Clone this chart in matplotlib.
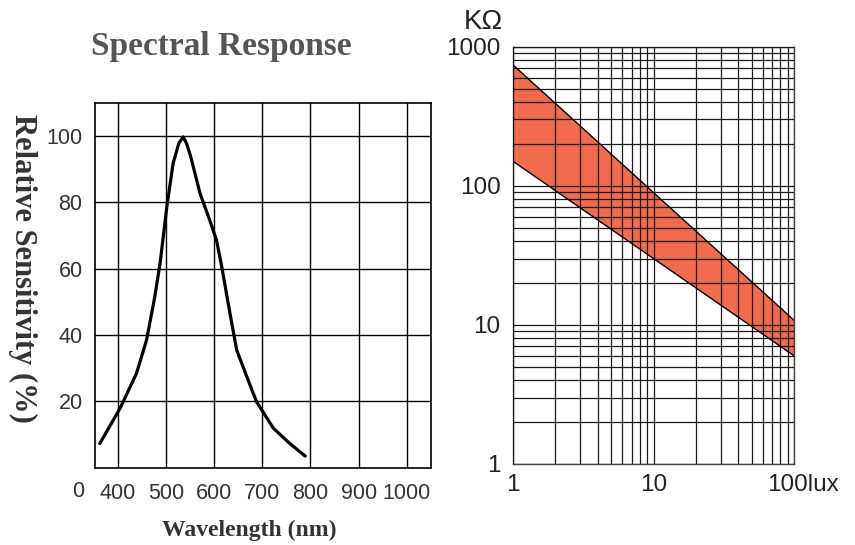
import numpy as np
import matplotlib
matplotlib.use("Agg")
import matplotlib.pyplot as plt
import matplotlib.transforms as mtransforms
from matplotlib import font_manager

# spectral response curve
wavelength = [363, 405, 439, 460, 477, 488, 502, 515, 527, 536, 543, 552, 571, 591,
              605, 616, 633, 647, 668, 688, 723, 757, 789]
sensitivity = [7.3, 17.9, 28.4, 38.5, 51.5, 61.6, 78.6, 91.7, 97.8, 99.7, 97.7, 93.5, 82.6, 74.6,
               68.6, 60.5, 46.5, 35.4, 27.4, 19.9, 11.9, 7.3, 3.5]
wl_ticks = [400, 500, 600, 700, 800, 900, 1000]
sens_ticks = [20, 40, 60, 80, 100]

# resistance band vs illuminance
lux = [1, 100]
r_high = [740, 10.8]
r_low = [150, 6.0]
lux_ticks = [1, 10, 100]
lux_labels = ["1", "10", "100lux"]
r_ticks = [1, 10, 100, 1000]
r_labels = ["1", "10", "100", "1000"]

names = {f.name for f in font_manager.fontManager.ttflist}
narrow = ["Liberation Sans Narrow", "Liberation Sans"] if "Liberation Sans Narrow" in names else ["Liberation Sans"]
serif = ["Liberation Serif", "DejaVu Serif"]
sans = ["Liberation Sans", "DejaVu Sans"]

fig = plt.figure(figsize=(8.55, 5.45), dpi=100)

# ---- left: spectral response
ax1 = fig.add_axes([95/855, 1-467.7/545, 336/855, 365/545])
ax1.plot(wavelength, sensitivity, color="black", lw=2.3, solid_capstyle="round",
         solid_joinstyle="round", zorder=3)
ax1.set_xlim(353, 1050)
ax1.set_ylim(0, 110)
ax1.set_xticks(wl_ticks)
ax1.set_yticks(sens_ticks)
ax1.grid(True, color="black", lw=1.0)
ax1.tick_params(length=0, labelsize=15.5, labelcolor="#333333")
ax1.tick_params(axis="x", pad=11)
ax1.tick_params(axis="y", pad=9)
for lab in ax1.get_xticklabels() + ax1.get_yticklabels():
    lab.set_family(narrow)
for s in ax1.spines.values():
    s.set_linewidth(1.2)
ax1.text(78/855, 1-491.7/545, "0", transform=fig.transFigure, ha="center", va="center",
         fontsize=15.5, color="#333333", family=narrow)

fig.text(221/855, 1-46/545, "Spectral Response", ha="center", va="center",
         fontsize=24, fontweight="bold", color="#555555", family=serif)
fig.text(249/855, 1-530/545, "Wavelength (nm)", ha="center", va="center",
         fontsize=17, fontweight="bold", color="#333333", family=serif)
fig.text(23/855, 1-268/545, "Relative Sensitivity (%)", ha="center", va="center",
         rotation=-90, fontsize=22, fontweight="bold", color="#333333", family=serif)

# ---- right: resistance vs lux
ax2 = fig.add_axes([513/855, 1-464/545, 281/855, 417.3/545])
ax2.set_xscale("log")
ax2.set_yscale("log")
ax2.fill_between(lux, r_low, r_high, color="#F26B4C", lw=0, zorder=1)
ax2.plot(lux, r_high, color="black", lw=1.0, zorder=3)
ax2.plot(lux, r_low, color="black", lw=1.0, zorder=3)
ax2.set_xlim(1, 100)
ax2.set_ylim(1, 1000)
ax2.set_xticks(lux_ticks)
ax2.set_xticklabels(lux_labels)
ax2.set_yticks(r_ticks)
ax2.set_yticklabels(r_labels)
ax2.minorticks_on()
ax2.grid(True, which="both", color="#1a1a1a", lw=0.9, zorder=2)
ax2.set_axisbelow(False)
ax2.tick_params(which="both", length=0)
ax2.tick_params(labelsize=17.5, labelcolor="#222222")
ax2.tick_params(axis="x", pad=7)
ax2.tick_params(axis="y", pad=9)
ax2.xaxis.set_minor_formatter(matplotlib.ticker.NullFormatter())
ax2.yaxis.set_minor_formatter(matplotlib.ticker.NullFormatter())
for lab in ax2.get_xticklabels() + ax2.get_yticklabels():
    lab.set_family(sans)
last = ax2.get_xticklabels()[-1]
last.set_transform(last.get_transform() + mtransforms.ScaledTranslation(9/100, 0, fig.dpi_scale_trans))
for s in ax2.spines.values():
    s.set_linewidth(1.0)
    s.set_color("#444444")

fig.text(503/855, 1-22/545, "KΩ", ha="right", va="center",
         fontsize=20, color="#222222", family=sans)

fig.savefig("out.png", dpi=100)
